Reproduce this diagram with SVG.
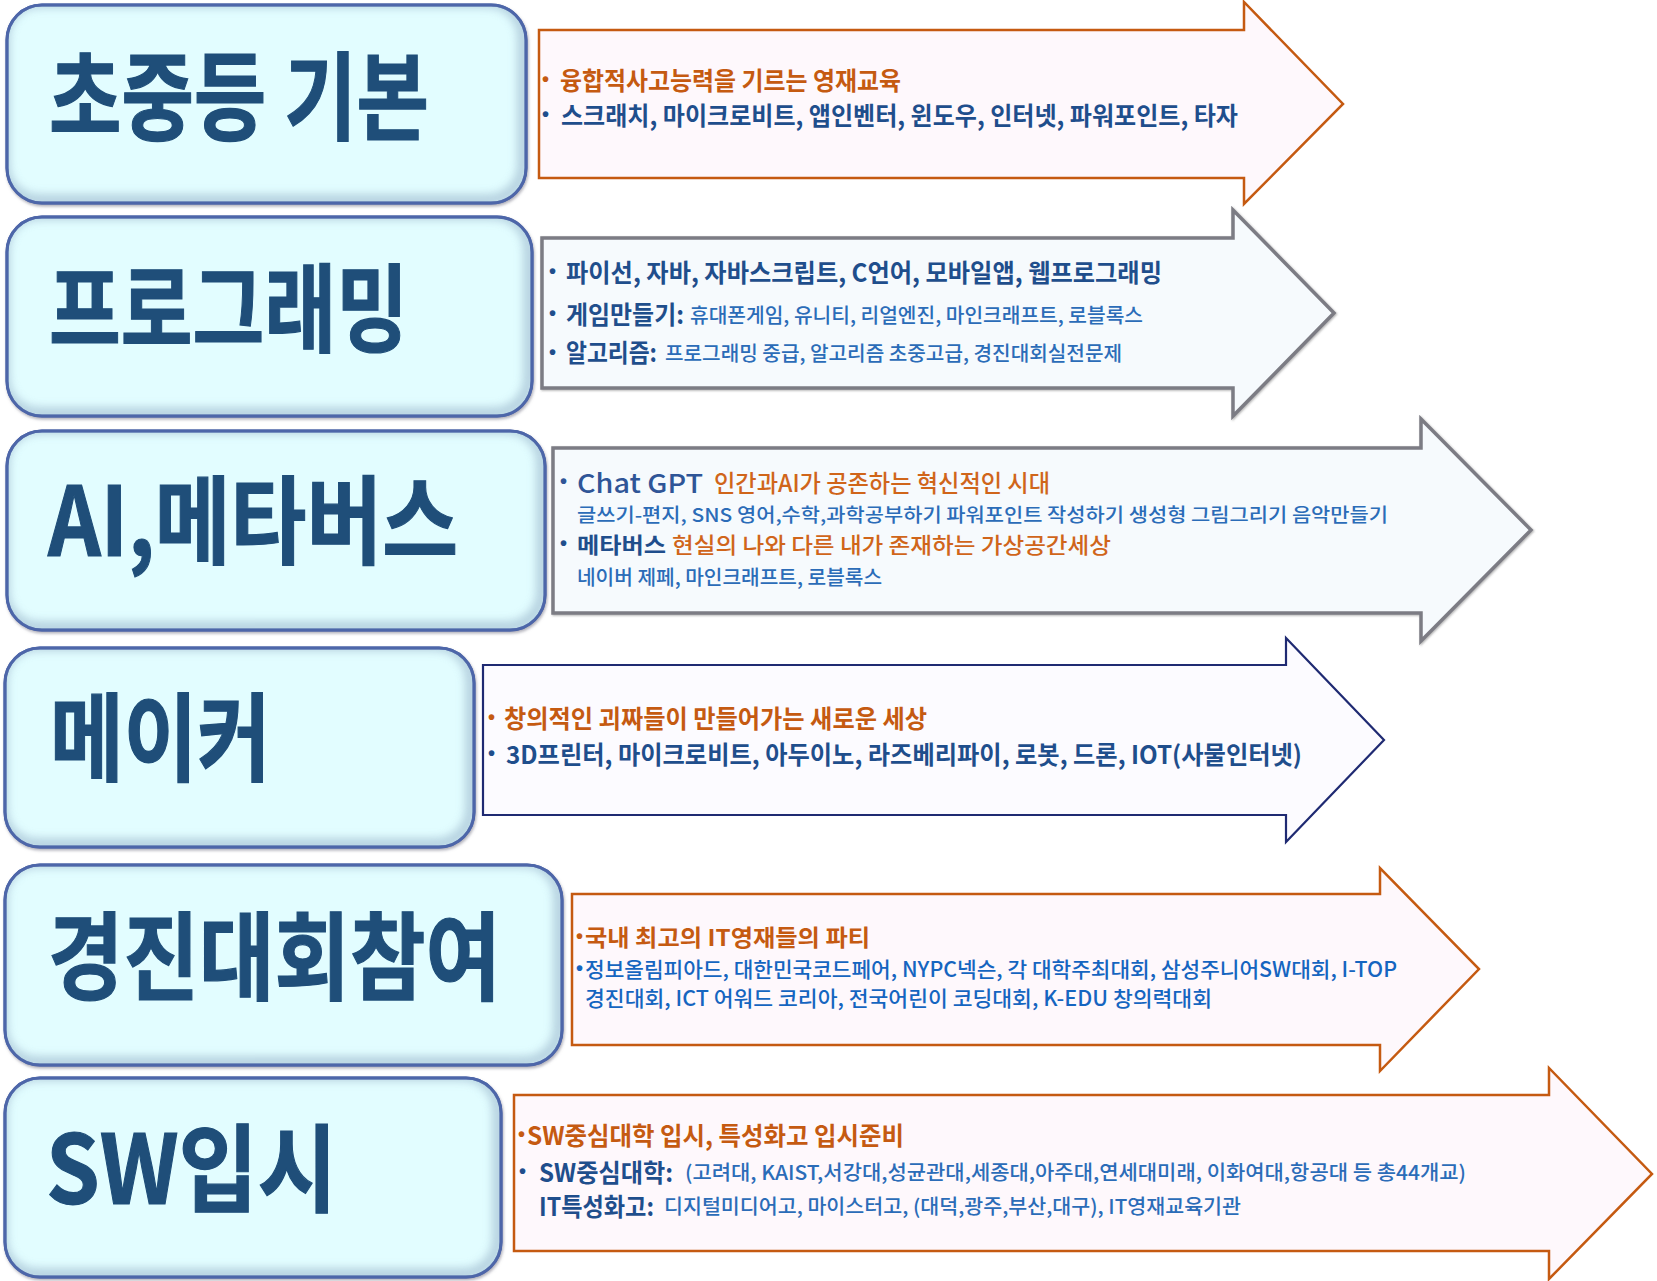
<svg xmlns="http://www.w3.org/2000/svg" width="1657" height="1281" viewBox="0 0 1657 1281">
<style>
  text { font-family: "Noto Sans CJK KR", "Noto Sans", "Liberation Sans", sans-serif; dominant-baseline: central; }
  .title { font-size: 96px; font-weight: 700; fill: #1f4e79; stroke: #1f4e79; stroke-width: 1.2; }
  .box { fill: #e2fdff; stroke: #4d66a9; stroke-width: 3; }
  .bevel { fill: none; stroke: #a8c4d6; stroke-width: 12; opacity: 0.75; }
  .orgA { fill: #fef8fc; stroke: #c55a11; stroke-width: 2.5; }
  .grayA { fill: #f6fafd; stroke: #7c7c84; stroke-width: 3.5; }
  .navyA { fill: #fcfbff; stroke: #1f2a72; stroke-width: 2.2; }
  .t { font-size: 25px; font-weight: 700; }
  .s { font-size: 20px; font-weight: 500; }
  .b { font-family: "Liberation Sans", sans-serif; font-size: 20px; font-weight: 700; }
  .or { fill: #c55a11; }
  .or2 { fill: #d0651a; }
  .nv { fill: #1f4e8c; }
  .bl { fill: #2b6cb8; }
  .bl2 { fill: #1565c0; }
</style>
<defs>
  <filter id="sh" x="-5%" y="-5%" width="110%" height="115%">
    <feDropShadow dx="1" dy="2" stdDeviation="1.5" flood-color="#7a7a8a" flood-opacity="0.6"/>
  </filter>
  <filter id="blur" x="-5%" y="-5%" width="110%" height="110%">
    <feGaussianBlur stdDeviation="4"/>
  </filter>
  <filter id="ash" x="-5%" y="-5%" width="110%" height="110%">
    <feDropShadow dx="1" dy="1" stdDeviation="1.2" flood-color="#555" flood-opacity="0.45"/>
  </filter>
  <clipPath id="c1"><rect x="7" y="5" width="519" height="198" rx="35"/></clipPath>
  <clipPath id="c2"><rect x="7" y="217" width="525" height="199" rx="35"/></clipPath>
  <clipPath id="c3"><rect x="7" y="431" width="538" height="199" rx="35"/></clipPath>
  <clipPath id="c4"><rect x="5" y="648" width="469" height="199" rx="35"/></clipPath>
  <clipPath id="c5"><rect x="5" y="865" width="557" height="200" rx="35"/></clipPath>
  <clipPath id="c6"><rect x="5" y="1078" width="496" height="199" rx="35"/></clipPath>
</defs>
<rect width="1657" height="1281" fill="#ffffff"/>

<!-- connectors (arrow shapes) -->
<g id="connectors">
  <polygon class="orgA" points="539,30 1244,30 1244,2 1343,104 1244,204 1244,178 539,178"/>
  <polygon class="grayA" filter="url(#ash)" points="542,238 1233,238 1233,210 1334,313 1233,416 1233,388 542,388"/>
  <polygon class="grayA" filter="url(#ash)" points="553,448 1421,448 1421,419 1531,530 1421,641 1421,613 553,613"/>
  <polygon class="navyA" points="483,665 1286,665 1286,638 1384,740 1286,842 1286,815 483,815"/>
  <polygon class="orgA" points="572,894 1380,894 1380,868 1479,969 1380,1071 1380,1045 572,1045"/>
  <polygon class="orgA" points="514,1095 1549,1095 1549,1068 1652,1174 1549,1279 1549,1251 514,1251"/>
</g>

<!-- node 1 -->
<g id="node1">
  <rect class="box" filter="url(#sh)" x="7" y="5" width="519" height="198" rx="35"/>
  <g clip-path="url(#c1)"><rect class="bevel" filter="url(#blur)" x="4" y="2" width="519" height="198" rx="35"/></g>
  <rect x="7" y="5" width="519" height="198" rx="35" fill="none" stroke="#4d66a9" stroke-width="3"/>
  <text class="title" x="49" y="90" textLength="380" lengthAdjust="spacingAndGlyphs">초중등 기본</text>
</g>
<g id="detail1">
  <text class="b or" x="542" y="79">•</text>
  <text class="t or" x="560" y="79" textLength="341" lengthAdjust="spacingAndGlyphs">융합적사고능력을 기르는 영재교육</text>
  <text class="b nv" x="542" y="114">•</text>
  <text class="t nv" x="561" y="114" textLength="677" lengthAdjust="spacingAndGlyphs">스크래치, 마이크로비트, 앱인벤터, 윈도우, 인터넷, 파워포인트, 타자</text>
</g>

<!-- node 2 -->
<g id="node2">
  <rect class="box" filter="url(#sh)" x="7" y="217" width="525" height="199" rx="35"/>
  <g clip-path="url(#c2)"><rect class="bevel" filter="url(#blur)" x="4" y="214" width="525" height="199" rx="35"/></g>
  <rect x="7" y="217" width="525" height="199" rx="35" fill="none" stroke="#4d66a9" stroke-width="3"/>
  <text class="title" x="49" y="302" textLength="359" lengthAdjust="spacingAndGlyphs">프로그래밍</text>
</g>
<g id="detail2">
  <text class="b nv" x="549" y="271">•</text>
  <text class="t nv" x="566" y="271" textLength="596" lengthAdjust="spacingAndGlyphs">파이선, 자바, 자바스크립트, C언어, 모바일앱, 웹프로그래밍</text>
  <text class="b nv" x="549" y="313">•</text>
  <text class="t nv" x="566" y="313" textLength="118" lengthAdjust="spacingAndGlyphs">게임만들기:</text>
  <text class="s bl" x="690" y="314" textLength="453" lengthAdjust="spacingAndGlyphs">휴대폰게임, 유니티, 리얼엔진, 마인크래프트, 로블록스</text>
  <text class="b nv" x="549" y="352">•</text>
  <text class="t nv" x="566" y="351" textLength="91" lengthAdjust="spacingAndGlyphs">알고리즘:</text>
  <text class="s bl" x="665" y="352" textLength="457" lengthAdjust="spacingAndGlyphs">프로그래밍 중급, 알고리즘 초중고급, 경진대회실전문제</text>
</g>

<!-- node 3 -->
<g id="node3">
  <rect class="box" filter="url(#sh)" x="7" y="431" width="538" height="199" rx="35"/>
  <g clip-path="url(#c3)"><rect class="bevel" filter="url(#blur)" x="4" y="428" width="538" height="199" rx="35"/></g>
  <rect x="7" y="431" width="538" height="199" rx="35" fill="none" stroke="#4d66a9" stroke-width="3"/>
  <text class="title" x="48" y="514" textLength="410" lengthAdjust="spacingAndGlyphs">AI,메타버스</text>
</g>
<g id="detail3">
  <text class="b" x="560" y="481" fill="#2f5597">•</text>
  <text x="577" y="481" font-size="26" font-weight="500" fill="#2f5597" textLength="126" lengthAdjust="spacingAndGlyphs">Chat GPT</text>
  <text class="or2" x="714" y="481" font-size="24" font-weight="500" textLength="336" lengthAdjust="spacingAndGlyphs">인간과AI가 공존하는 혁신적인 시대</text>
  <text class="bl" x="577" y="513" font-size="19" font-weight="500" textLength="811" lengthAdjust="spacingAndGlyphs">글쓰기-편지, SNS 영어,수학,과학공부하기 파워포인트 작성하기 생성형 그림그리기 음악만들기</text>
  <text class="b nv" x="560" y="543">•</text>
  <text class="nv" x="577" y="543" font-size="22" font-weight="700" textLength="89" lengthAdjust="spacingAndGlyphs">메타버스</text>
  <text class="or2" x="672" y="543" font-size="22" font-weight="500" textLength="439" lengthAdjust="spacingAndGlyphs">현실의 나와 다른 내가 존재하는 가상공간세상</text>
  <text class="bl" x="577" y="576" font-size="20" font-weight="500" textLength="305" lengthAdjust="spacingAndGlyphs">네이버 제페, 마인크래프트, 로블록스</text>
</g>

<!-- node 4 -->
<g id="node4">
  <rect class="box" filter="url(#sh)" x="5" y="648" width="469" height="199" rx="35"/>
  <g clip-path="url(#c4)"><rect class="bevel" filter="url(#blur)" x="2" y="645" width="469" height="199" rx="35"/></g>
  <rect x="5" y="648" width="469" height="199" rx="35" fill="none" stroke="#4d66a9" stroke-width="3"/>
  <text class="title" x="50" y="731" textLength="221" lengthAdjust="spacingAndGlyphs">메이커</text>
</g>
<g id="detail4">
  <text class="b or" x="488" y="717">•</text>
  <text class="t or" x="504" y="717" textLength="423" lengthAdjust="spacingAndGlyphs">창의적인 괴짜들이 만들어가는 새로운 세상</text>
  <text class="b nv" x="488" y="753">•</text>
  <text class="t nv" x="506" y="753" textLength="796" lengthAdjust="spacingAndGlyphs">3D프린터, 마이크로비트, 아두이노, 라즈베리파이, 로봇, 드론, IOT(사물인터넷)</text>
</g>

<!-- node 5 -->
<g id="node5">
  <rect class="box" filter="url(#sh)" x="5" y="865" width="557" height="200" rx="35"/>
  <g clip-path="url(#c5)"><rect class="bevel" filter="url(#blur)" x="2" y="862" width="557" height="200" rx="35"/></g>
  <rect x="5" y="865" width="557" height="200" rx="35" fill="none" stroke="#4d66a9" stroke-width="3"/>
  <text class="title" x="48" y="950" textLength="453" lengthAdjust="spacingAndGlyphs">경진대회참여</text>
</g>
<g id="detail5">
  <text class="b or" x="576" y="936">•</text>
  <text class="or" x="585" y="936" font-size="23" font-weight="700" textLength="285" lengthAdjust="spacingAndGlyphs">국내 최고의 IT영재들의 파티</text>
  <text class="b bl2" x="576" y="968">•</text>
  <text class="bl2" x="585" y="968" font-size="21" font-weight="500" textLength="812" lengthAdjust="spacingAndGlyphs">정보올림피아드, 대한민국코드페어, NYPC넥슨, 각 대학주최대회, 삼성주니어SW대회, I-TOP</text>
  <text class="bl2" x="585" y="997" font-size="21" font-weight="500" textLength="627" lengthAdjust="spacingAndGlyphs">경진대회, ICT 어워드 코리아, 전국어린이 코딩대회, K-EDU 창의력대회</text>
</g>

<!-- node 6 -->
<g id="node6">
  <rect class="box" filter="url(#sh)" x="5" y="1078" width="496" height="199" rx="35"/>
  <g clip-path="url(#c6)"><rect class="bevel" filter="url(#blur)" x="2" y="1075" width="496" height="199" rx="35"/></g>
  <rect x="5" y="1078" width="496" height="199" rx="35" fill="none" stroke="#4d66a9" stroke-width="3"/>
  <text class="title" x="46" y="1162" textLength="291" lengthAdjust="spacingAndGlyphs">SW입시</text>
</g>
<g id="detail6">
  <text class="b or" x="518" y="1134">•</text>
  <text class="t or" x="527" y="1134" textLength="377" lengthAdjust="spacingAndGlyphs">SW중심대학 입시, 특성화고 입시준비</text>
  <text class="b nv" x="519" y="1171">•</text>
  <text class="t nv" x="539" y="1171" textLength="134" lengthAdjust="spacingAndGlyphs">SW중심대학:</text>
  <text class="s bl" x="685" y="1171" textLength="781" lengthAdjust="spacingAndGlyphs">(고려대, KAIST,서강대,성균관대,세종대,아주대,연세대미래, 이화여대,항공대 등 총44개교)</text>
  <text class="t nv" x="539" y="1205" textLength="115" lengthAdjust="spacingAndGlyphs">IT특성화고:</text>
  <text class="s bl" x="664" y="1205" textLength="577" lengthAdjust="spacingAndGlyphs">디지털미디어고, 마이스터고, (대덕,광주,부산,대구), IT영재교육기관</text>
</g>
</svg>
